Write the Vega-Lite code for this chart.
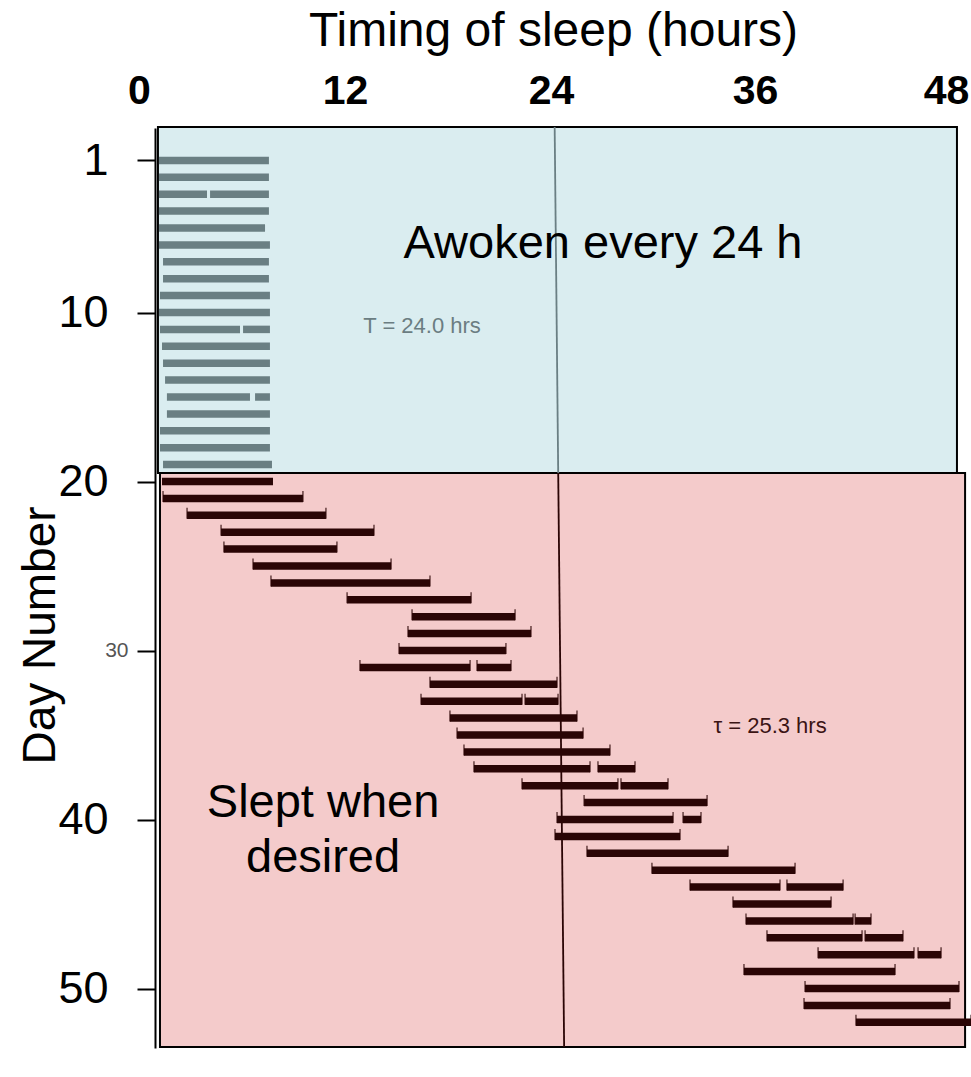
{
  "$schema": "https://vega.github.io/schema/vega-lite/v6.json",
  "autosize": {"type": "none"},
  "padding": {"left": 150, "top": 128, "right": 0, "bottom": 29},
  "width": 821,
  "height": 920,
  "background": "white",
  "config": {"view": {"stroke": null}, "font": "Liberation Sans"},
  "datasets": {
    "regions": [
      {"condition": "Awoken every 24 h", "x": 0.47, "x2": 47.70, "y": -0.98, "y2": 19.5},
      {"condition": "Slept when desired", "x": 0.59, "x2": 48.18, "y": 19.5, "y2": 53.46}
    ],
    "lines": [
      {"condition": "Awoken every 24 h", "x": 23.92, "x2": 24.13, "y": -0.98, "y2": 19.5},
      {"condition": "Slept when desired", "x": 24.13, "x2": 24.48, "y": 19.5, "y2": 53.46}
    ],
    "sleep": [
      {"day": 1, "phase": "entrained", "x": 0.53, "x2": 7.03},
      {"day": 2, "phase": "entrained", "x": 0.53, "x2": 7.03},
      {"day": 3, "phase": "entrained", "x": 0.53, "x2": 3.37},
      {"day": 3, "phase": "entrained", "x": 3.55, "x2": 7.03},
      {"day": 4, "phase": "entrained", "x": 0.53, "x2": 7.03},
      {"day": 5, "phase": "entrained", "x": 0.53, "x2": 6.80},
      {"day": 6, "phase": "entrained", "x": 0.53, "x2": 7.09},
      {"day": 7, "phase": "entrained", "x": 0.77, "x2": 7.03},
      {"day": 8, "phase": "entrained", "x": 0.77, "x2": 7.03},
      {"day": 9, "phase": "entrained", "x": 0.59, "x2": 7.09},
      {"day": 10, "phase": "entrained", "x": 0.53, "x2": 7.09},
      {"day": 11, "phase": "entrained", "x": 0.59, "x2": 5.32},
      {"day": 11, "phase": "entrained", "x": 5.50, "x2": 7.09},
      {"day": 12, "phase": "entrained", "x": 0.71, "x2": 7.09},
      {"day": 13, "phase": "entrained", "x": 0.77, "x2": 7.09},
      {"day": 14, "phase": "entrained", "x": 0.89, "x2": 7.09},
      {"day": 15, "phase": "entrained", "x": 1.00, "x2": 5.91},
      {"day": 15, "phase": "entrained", "x": 6.21, "x2": 7.09},
      {"day": 16, "phase": "entrained", "x": 1.00, "x2": 7.09},
      {"day": 17, "phase": "entrained", "x": 0.59, "x2": 7.09},
      {"day": 18, "phase": "entrained", "x": 0.59, "x2": 7.09},
      {"day": 19, "phase": "entrained", "x": 0.77, "x2": 7.21},
      {"day": 20, "phase": "free", "x": 0.71, "x2": 7.27},
      {"day": 21, "phase": "free", "x": 0.77, "x2": 9.04},
      {"day": 22, "phase": "free", "x": 2.19, "x2": 10.40},
      {"day": 23, "phase": "free", "x": 4.20, "x2": 13.24},
      {"day": 24, "phase": "free", "x": 4.37, "x2": 11.05},
      {"day": 25, "phase": "free", "x": 6.09, "x2": 14.25},
      {"day": 26, "phase": "free", "x": 7.15, "x2": 16.55},
      {"day": 27, "phase": "free", "x": 11.65, "x2": 18.98},
      {"day": 28, "phase": "free", "x": 15.49, "x2": 21.58},
      {"day": 29, "phase": "free", "x": 15.25, "x2": 22.52},
      {"day": 30, "phase": "free", "x": 14.72, "x2": 21.04},
      {"day": 31, "phase": "free", "x": 12.41, "x2": 18.92},
      {"day": 31, "phase": "free", "x": 19.33, "x2": 21.34},
      {"day": 32, "phase": "free", "x": 16.55, "x2": 24.06},
      {"day": 33, "phase": "free", "x": 16.02, "x2": 21.99},
      {"day": 33, "phase": "free", "x": 22.17, "x2": 24.12},
      {"day": 34, "phase": "free", "x": 17.73, "x2": 25.24},
      {"day": 35, "phase": "free", "x": 18.15, "x2": 25.60},
      {"day": 36, "phase": "free", "x": 18.56, "x2": 27.19},
      {"day": 37, "phase": "free", "x": 19.15, "x2": 26.01},
      {"day": 37, "phase": "free", "x": 26.48, "x2": 28.67},
      {"day": 38, "phase": "free", "x": 21.99, "x2": 27.66},
      {"day": 38, "phase": "free", "x": 27.84, "x2": 30.62},
      {"day": 39, "phase": "free", "x": 25.66, "x2": 32.93},
      {"day": 40, "phase": "free", "x": 24.06, "x2": 30.92},
      {"day": 40, "phase": "free", "x": 31.51, "x2": 32.57},
      {"day": 41, "phase": "free", "x": 23.94, "x2": 31.33},
      {"day": 42, "phase": "free", "x": 25.83, "x2": 34.17},
      {"day": 43, "phase": "free", "x": 29.67, "x2": 38.13},
      {"day": 44, "phase": "free", "x": 31.92, "x2": 37.24},
      {"day": 44, "phase": "free", "x": 37.65, "x2": 40.97},
      {"day": 45, "phase": "free", "x": 34.46, "x2": 40.26},
      {"day": 46, "phase": "free", "x": 35.23, "x2": 41.56},
      {"day": 46, "phase": "free", "x": 41.68, "x2": 42.62},
      {"day": 47, "phase": "free", "x": 36.47, "x2": 42.09},
      {"day": 47, "phase": "free", "x": 42.27, "x2": 44.51},
      {"day": 48, "phase": "free", "x": 39.49, "x2": 45.16},
      {"day": 48, "phase": "free", "x": 45.40, "x2": 46.76},
      {"day": 49, "phase": "free", "x": 35.11, "x2": 44.04},
      {"day": 50, "phase": "free", "x": 38.72, "x2": 47.82},
      {"day": 51, "phase": "free", "x": 38.66, "x2": 47.29},
      {"day": 52, "phase": "free", "x": 41.73, "x2": 48.53}
    ],
    "labels": [
      {"kind": "big", "x": 26.78, "y": 6.78, "text": "Awoken every 24 h"},
      {"kind": "big", "x": 10.23, "y": 39.85, "text": "Slept when"},
      {"kind": "big", "x": 10.23, "y": 43.1, "text": "desired"},
      {"kind": "tau1", "x": 16.08, "y": 11.21, "text": "T = 24.0 hrs"},
      {"kind": "tau2", "x": 36.65, "y": 34.88, "text": "τ = 25.3 hrs"}
    ]
  },
  "encoding": {
    "x": {
      "field": "x", "type": "quantitative",
      "scale": {"domain": [0, 48.53], "nice": false, "zero": false},
      "axis": {
        "orient": "top", "values": [0, 12, 24, 36, 48],
        "ticks": false, "tickSize": 0, "domain": false, "grid": false,
        "labelFont": "Liberation Sans", "labelFontWeight": "bold", "labelFontSize": 41,
        "labelColor": "black", "labelPadding": 25, "labelBaseline": "alphabetic",
        "labelOffset": {"expr": "datum.value == 0 ? -11 : datum.value == 12 ? -8 : datum.value == 24 ? -5 : datum.value == 36 ? -4 : -16"},
        "labelFlush": false, "labelOverlap": false,
        "title": "Timing of sleep (hours)", "titleFont": "Liberation Sans",
        "titleFontSize": 48, "titleFontWeight": "normal", "titleColor": "black",
        "titleX": 403, "titleY": -83, "titleBaseline": "alphabetic", "titleAlign": "center"
      }
    },
    "y": {
      "field": "y", "type": "quantitative",
      "scale": {"domain": [-0.917, 53.52], "nice": false, "zero": false, "reverse": true},
      "axis": {
        "orient": "left", "values": [1, 10, 20, 30, 40, 50], "offset": -5,
        "domain": true, "domainColor": "black", "domainWidth": 2,
        "ticks": true, "tickSize": 18, "tickColor": "black", "tickWidth": 2, "grid": false,
        "labelFont": "Liberation Sans",
        "labelFontSize": {"expr": "datum.value == 30 ? 21 : 45"},
        "labelPadding": {"expr": "datum.value == 30 ? 9 : 29"},
        "labelColor": {"expr": "datum.value == 30 ? '#555555' : 'black'"},
        "labelBaseline": "middle", "labelOverlap": false,
        "title": "Day Number", "titleFont": "Liberation Sans", "titleFontSize": 46,
        "titleFontWeight": "normal", "titleColor": "black", "titleAngle": -90,
        "titleX": -101, "titleY": 507, "titleBaseline": "alphabetic", "titleAlign": "center"
      }
    }
  },
  "layer": [
    {
      "data": {"name": "regions"},
      "mark": {"type": "rect", "stroke": "black", "strokeWidth": 2},
      "encoding": {
        "x2": {"field": "x2"},
        "y2": {"field": "y2"},
        "fill": {"field": "condition", "type": "nominal", "legend": null,
          "scale": {"domain": ["Awoken every 24 h", "Slept when desired"], "range": ["#daedf0", "#f4cbcb"]}}
      }
    },
    {
      "data": {"name": "lines"},
      "mark": {"type": "rule", "strokeWidth": 1.8},
      "encoding": {
        "x2": {"field": "x2"},
        "y2": {"field": "y2"},
        "color": {"field": "condition", "type": "nominal", "legend": null,
          "scale": {"domain": ["Awoken every 24 h", "Slept when desired"], "range": ["#6a7f83", "#2a0505"]}}
      }
    },
    {
      "data": {"name": "sleep"},
      "mark": {"type": "rule", "strokeWidth": 7.5, "strokeCap": "butt"},
      "encoding": {
        "y": {"field": "day", "type": "quantitative"},
        "x2": {"field": "x2"},
        "color": {"field": "phase", "type": "nominal", "legend": null,
          "scale": {"domain": ["entrained", "free"], "range": ["#5b6f72", "#2a0303"]}}
      }
    },
    {
      "data": {"name": "sleep"},
      "transform": [{"filter": "datum.phase == 'free' && datum.day > 20"}],
      "mark": {"type": "tick", "orient": "vertical", "size": 11, "thickness": 1.5, "yOffset": -2, "color": "#2a0303"},
      "encoding": {
        "y": {"field": "day", "type": "quantitative"}
      }
    },
    {
      "data": {"name": "sleep"},
      "transform": [{"filter": "datum.phase == 'free' && datum.day > 20"}],
      "mark": {"type": "tick", "orient": "vertical", "size": 11, "thickness": 1.5, "yOffset": -2, "color": "#2a0303"},
      "encoding": {
        "x": {"field": "x2", "type": "quantitative"},
        "y": {"field": "day", "type": "quantitative"}
      }
    },
    {
      "data": {"name": "labels"},
      "transform": [{"filter": "datum.kind == 'big'"}],
      "mark": {"type": "text", "font": "Liberation Sans", "fontSize": 47, "color": "black", "align": "center", "baseline": "alphabetic"},
      "encoding": {"text": {"field": "text"}}
    },
    {
      "data": {"name": "labels"},
      "transform": [{"filter": "datum.kind == 'tau1'"}],
      "mark": {"type": "text", "font": "Liberation Sans", "fontSize": 22, "color": "#6b7d82", "align": "center", "baseline": "alphabetic"},
      "encoding": {"text": {"field": "text"}}
    },
    {
      "data": {"name": "labels"},
      "transform": [{"filter": "datum.kind == 'tau2'"}],
      "mark": {"type": "text", "font": "Liberation Sans", "fontSize": 22, "color": "#3b1414", "align": "center", "baseline": "alphabetic"},
      "encoding": {"text": {"field": "text"}}
    }
  ]
}
